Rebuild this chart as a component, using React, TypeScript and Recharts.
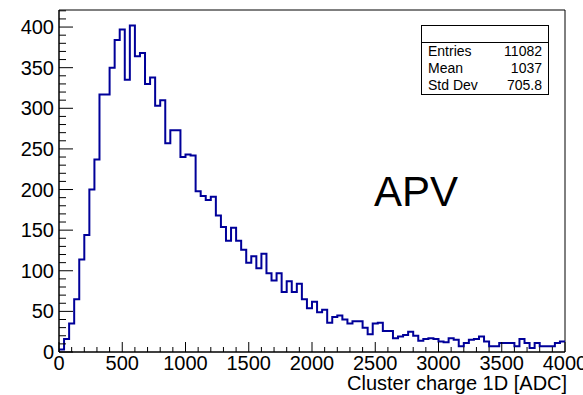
import React from 'react';
import { ComposedChart, Line, XAxis, YAxis, ReferenceArea } from 'recharts';

// 100 bins of 40 ADC, 0..4000
const binWidth = 40;
const counts = [
  3, 16, 35, 65, 114, 144, 200, 237, 317, 317,
  350, 384, 397, 335, 402, 364, 368, 330, 338, 303,
  310, 257, 273, 273, 240, 243, 242, 198, 192, 187,
  191, 168, 154, 137, 153, 137, 126, 110, 118, 103,
  121, 97, 88, 97, 74, 87, 74, 84, 65, 54,
  62, 49, 52, 36, 43, 45, 40, 35, 38, 38,
  30, 22, 35, 36, 26, 26, 17, 19, 21, 25,
  20, 14, 16, 17, 16, 13, 12, 17, 15, 7,
  11, 15, 16, 19, 13, 7, 7, 11, 11, 11,
  7, 16, 11, 5, 11, 7, 7, 7, 11, 13,
];

const xMajor = [0, 500, 1000, 1500, 2000, 2500, 3000, 3500, 4000];
const yMajor = [0, 50, 100, 150, 200, 250, 300, 350, 400];
const xMinorStep = 100;
const yMinorStep = 10;
const xMax = 4000;
const yMax = 421;

const stats = [
  { label: 'Entries', value: '11082' },
  { label: 'Mean', value: '1037' },
  { label: 'Std Dev', value: '705.8' },
];

const xTicks: number[] = [];
for (let v = 0; v <= xMax; v += xMinorStep) xTicks.push(v);
const yTicks: number[] = [];
for (let v = 0; v <= 420; v += yMinorStep) yTicks.push(v);

const histData = [
  { x: 0, y: 0 },
  ...counts.map((c, i) => ({ x: i * binWidth, y: c })),
  { x: xMax, y: counts[counts.length - 1] },
];

const font = '"Liberation Sans", Arial, Helvetica, sans-serif';

const YTick = (props: any) => {
  const { x, y, payload } = props;
  const major = yMajor.includes(payload.value);
  return (
    <g>
      <line x1={x} x2={x + (major ? 14 : 7)} y1={y} y2={y} stroke="#000" strokeWidth={1} />
      {major && (
        <text x={x - 5} y={y} dy={7} textAnchor="end" fontSize={20} fontFamily={font} fill="#000">
          {payload.value}
        </text>
      )}
    </g>
  );
};

const XTick = (props: any) => {
  const { x, y, payload } = props;
  const major = xMajor.includes(payload.value);
  return (
    <g>
      <line x1={x} x2={x} y1={y} y2={y - (major ? 10 : 5)} stroke="#000" strokeWidth={1} />
      {major && (
        <text x={x} y={y} dy={18} textAnchor="middle" fontSize={20} fontFamily={font} fill="#000">
          {payload.value}
        </text>
      )}
    </g>
  );
};

export default function App() {
  return (
    <div style={{ position: 'absolute', left: 0, top: 0, width: 583, height: 395, background: '#fff', fontFamily: font }}>
      <ComposedChart width={583} height={395} data={histData} margin={{ top: 10, right: 18, bottom: 0, left: 0 }}>
        <XAxis
          dataKey="x"
          type="number"
          domain={[0, xMax]}
          ticks={xTicks}
          interval={0}
          tick={<XTick />}
          tickLine={false}
          tickSize={0}
          tickMargin={0}
          height={43}
          axisLine={{ stroke: '#000' }}
          allowDataOverflow
        />
        <YAxis
          type="number"
          domain={[0, yMax]}
          ticks={yTicks}
          interval={0}
          tick={<YTick />}
          tickLine={false}
          tickSize={0}
          tickMargin={0}
          width={59}
          axisLine={{ stroke: '#000' }}
          allowDataOverflow
        />
        <ReferenceArea x1={0} x2={xMax} y1={0} y2={yMax} fill="none" stroke="#000" strokeWidth={1} />
        <Line
          type="stepAfter"
          dataKey="y"
          stroke="#000099"
          strokeWidth={2}
          dot={false}
          activeDot={false}
          isAnimationActive={false}
        />
      </ComposedChart>

      <div style={{ position: 'absolute', left: 347, top: 372, width: 218, textAlign: 'right', fontSize: 20, lineHeight: '22px', color: '#000', whiteSpace: 'nowrap' }}>
        Cluster charge 1D [ADC]
      </div>

      <div style={{ position: 'absolute', left: 374, top: 168, fontSize: 42, lineHeight: '48px', color: '#000' }}>APV</div>

      <div style={{ position: 'absolute', left: 421, top: 25, width: 126, height: 68, border: '1px solid #000', background: '#fff', boxSizing: 'content-box' }}>
        <div style={{ height: 16, borderBottom: '1px solid #000' }} />
        {stats.map((s) => (
          <div key={s.label} style={{ display: 'flex', justifyContent: 'space-between', padding: '0 6px', height: 17, lineHeight: '17px', fontSize: 14, color: '#000' }}>
            <span>{s.label}</span>
            <span>{s.value}</span>
          </div>
        ))}
      </div>
    </div>
  );
}
